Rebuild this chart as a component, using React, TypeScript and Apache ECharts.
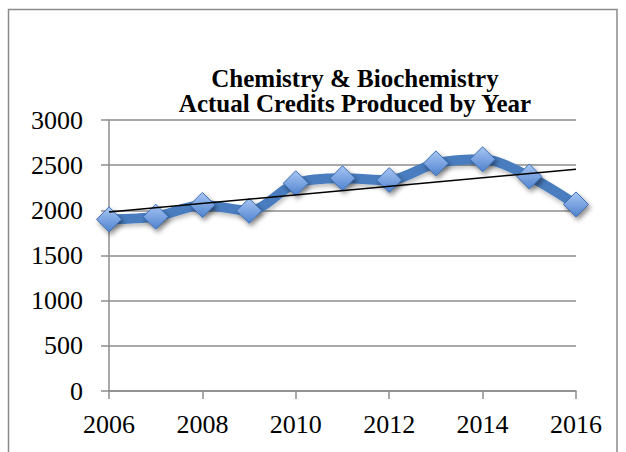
import React, { useEffect, useRef } from "react";
import * as echarts from "echarts";

// Actual credits produced per academic year
const years = [2006, 2007, 2008, 2009, 2010, 2011, 2012, 2013, 2014, 2015, 2016];
const credits = [1900, 1930, 2060, 1995, 2300, 2355, 2335, 2520, 2565, 2375, 2065];

const titleLines = ["Chemistry & Biochemistry", "Actual Credits Produced by Year"];

// Least-squares linear trend over the data
function linearTrend(xs: number[], ys: number[]) {
  const n = xs.length;
  const mx = xs.reduce((a, b) => a + b, 0) / n;
  const my = ys.reduce((a, b) => a + b, 0) / n;
  let sxy = 0;
  let sxx = 0;
  for (let i = 0; i < n; i++) {
    sxy += (xs[i] - mx) * (ys[i] - my);
    sxx += (xs[i] - mx) * (xs[i] - mx);
  }
  const slope = sxy / sxx;
  const first = xs[0];
  const last = xs[n - 1];
  return [
    [first, my + slope * (first - mx)],
    [last, my + slope * (last - mx)],
  ];
}

const FONT = "'Liberation Serif', 'Times New Roman', serif";
const GRAY = "#8c8c8c";

export default function App() {
  const ref = useRef<HTMLDivElement>(null);

  useEffect(() => {
    if (!ref.current) return;
    const chart = echarts.init(ref.current, null, { renderer: "svg" });
    const data = years.map((y, i) => [y, credits[i]]);
    const trend = linearTrend(years, credits);

    chart.setOption({
      animation: false,
      backgroundColor: "#ffffff",
      title: {
        text: titleLines.join("\n"),
        left: 350,
        top: 61,
        textAlign: "center",
        textStyle: {
          fontFamily: FONT,
          fontWeight: "bold",
          fontSize: 25,
          lineHeight: 25,
          color: "#000",
        },
      },
      graphic: [
        {
          type: "rect",
          shape: { x: 8.5, y: 9.5, width: 608.5, height: 470 },
          style: { fill: "none", stroke: "#8a8a8a", lineWidth: 1.5 },
          silent: true,
          z: -10,
        },
      ],
      grid: { left: 109, right: 50, top: 120, bottom: 61, containLabel: false },
      xAxis: {
        type: "value",
        min: 2006,
        max: 2016,
        interval: 2,
        axisLine: { show: true, lineStyle: { color: GRAY, width: 1.5 } },
        axisTick: { show: true, inside: false, length: 8, lineStyle: { color: GRAY, width: 1.5 } },
        splitLine: { show: false },
        axisLabel: {
          fontFamily: FONT,
          fontSize: 26,
          color: "#000",
          margin: 20,
          formatter: (v: number) => String(v),
        },
      },
      yAxis: {
        type: "value",
        min: 0,
        max: 3000,
        interval: 500,
        axisLine: { show: true, lineStyle: { color: GRAY, width: 1.5 } },
        axisTick: { show: true, inside: false, length: 8, lineStyle: { color: GRAY, width: 1.5 } },
        splitLine: { show: true, lineStyle: { color: GRAY, width: 1.5 } },
        axisLabel: {
          fontFamily: FONT,
          fontSize: 26,
          color: "#000",
          margin: 26,
          formatter: (v: number) => String(v),
        },
      },
      series: [
        {
          name: "Credits",
          type: "line",
          data,
          smooth: 0.3,
          symbol: "diamond",
          symbolSize: 25,
          lineStyle: {
            color: "#4a7dbf",
            width: 10,
            shadowColor: "rgba(0,0,0,0.25)",
            shadowBlur: 4,
            shadowOffsetX: 1,
            shadowOffsetY: 3,
          },
          itemStyle: {
            color: new echarts.graphic.LinearGradient(0, 0, 0, 1, [
              { offset: 0, color: "#a8c6f3" },
              { offset: 1, color: "#4f82cf" },
            ]),
            borderColor: "#3f6fb3",
            borderWidth: 1,
            shadowColor: "rgba(0,0,0,0.45)",
            shadowBlur: 5,
            shadowOffsetX: 2,
            shadowOffsetY: 3,
          },
          z: 2,
        },
        {
          name: "Linear trend",
          type: "line",
          data: trend,
          symbol: "none",
          lineStyle: { color: "#000", width: 1.5 },
          z: 3,
        },
      ],
    });

    return () => chart.dispose();
  }, []);

  return (
    <div
      ref={ref}
      style={{ position: "fixed", left: 0, top: 0, width: 626, height: 452, background: "#fff" }}
    />
  );
}
